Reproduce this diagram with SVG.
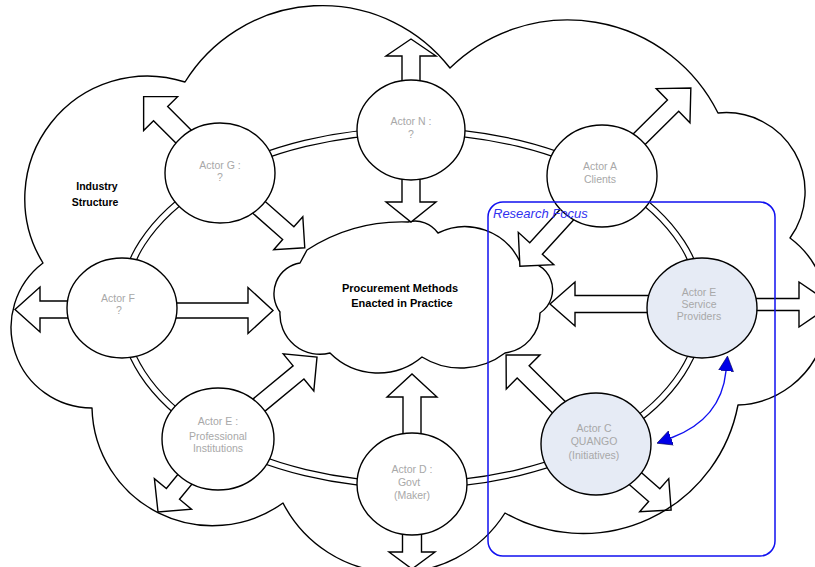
<svg xmlns="http://www.w3.org/2000/svg" width="815" height="567" viewBox="0 0 815 567">
<style>
.cloud{fill:none;stroke:#000;stroke-width:1.4;stroke-linejoin:round}
.core{fill:#fff;stroke:#000;stroke-width:1.4;stroke-linejoin:round}
.ringo{fill:none;stroke:#000;stroke-width:7.4}
.ringi{fill:none;stroke:#fff;stroke-width:5}
.arrow{fill:#fff;stroke:#000;stroke-width:1.4;stroke-linejoin:miter}
.actor{fill:#fff;stroke:#000;stroke-width:1.4}
.focus{fill:#E6EBF5}
.lbl{font-family:"Liberation Sans",Arial,sans-serif;font-size:10.5px;fill:#A8A8A8;text-anchor:middle}
.main{font-family:"Liberation Sans",Arial,sans-serif;font-size:11px;font-weight:bold;fill:#000;text-anchor:middle}
.box{fill:none;stroke:#1010F0;stroke-width:1.5}
.boxlbl{font-family:"Liberation Sans",Arial,sans-serif;font-size:13px;font-style:italic;fill:#3030F0}
.blue{fill:none;stroke:#1010F0;stroke-width:1.4}
</style>
<defs>
<marker id="bh" viewBox="0 0 10 10" refX="0" refY="5" markerUnits="userSpaceOnUse" markerWidth="15" markerHeight="18" orient="auto-start-reverse">
<path d="M0,0 L10,5 L0,10 Z" fill="#0000E8" stroke="#000050" stroke-width="0.4"/>
</marker>
</defs>

<g id="ring">
<ellipse class="ringo" cx="412" cy="308" rx="290" ry="177"/>
<ellipse class="ringi" cx="412" cy="308" rx="290" ry="177"/>
</g>

<g id="procurement-methods">
<path class="core" d="M307,250 A175,175 0 0 1 408,222 A28,28 0 0 1 438,233 A60.5,60.5 0 0 1 520,262 A28,28 0 0 1 540,313 A40,40 0 0 1 505,353 A73,73 0 0 1 422,357 A68,68 0 0 1 330,353 A40,40 0 0 1 280,312 A31,31 0 0 1 300,263 L307,250 Z"/>
<text class="main" x="400" y="292">Procurement Methods</text>
<text class="main" x="402" y="307">Enacted in Practice</text>
</g>

<g id="connectors">
<path class="arrow" transform="translate(411,130) rotate(-90)" d="M30,-9 L74,-9 L74,-25 L91,0 L74,25 L74,9 L30,9 Z"/>
<path class="arrow" transform="translate(411,130) rotate(90)" d="M30,-9 L72,-9 L72,-25 L92,0 L72,25 L72,9 L30,9 Z"/>
<path class="arrow" transform="translate(412,484) rotate(-90)" d="M30,-9 L87,-9 L87,-25 L110,0 L87,25 L87,9 L30,9 Z"/>
<path class="arrow" transform="translate(412,484) rotate(90)" d="M30,-9.5 L68,-9.5 L68,-23 L85,0 L68,23 L68,9.5 L30,9.5 Z"/>
<path class="arrow" transform="translate(122,309.5) rotate(180)" d="M30,-8.5 L82,-8.5 L82,-22.5 L107,0 L82,22.5 L82,8.5 L30,8.5 Z"/>
<path class="arrow" transform="translate(122,310.5)" d="M30,-7.5 L126,-7.5 L126,-23 L151,0 L126,23 L126,7.5 L30,7.5 Z"/>
<path class="arrow" transform="translate(702,304) rotate(180)" d="M30,-8.5 L127,-8.5 L127,-22 L152,0 L127,22 L127,8.5 L30,8.5 Z"/>
<path class="arrow" transform="translate(702,304.5)" d="M30,-6 L97,-6 L97,-22.5 L130,0 L97,22.5 L97,6 L30,6 Z"/>
<path class="arrow" transform="translate(220,173) rotate(-135)" d="M30,-10 L84,-10 L84,-24 L108,0 L84,24 L84,10 L30,10 Z"/>
<path class="arrow" transform="translate(220,173) rotate(41.4)" d="M30,-8.5 L91,-8.5 L91,-22 L113,0 L91,22 L91,8.5 L30,8.5 Z"/>
<path class="arrow" transform="translate(602,176) rotate(-44.7)" d="M30,-8 L100,-8 L100,-24 L125,0 L100,24 L100,8 L30,8 Z"/>
<path class="arrow" transform="translate(602,176) rotate(132.3)" d="M30,-8.5 L98,-8.5 L98,-24 L122,0 L98,24 L98,8.5 L30,8.5 Z"/>
<path class="arrow" transform="translate(596,444) rotate(-135.3)" d="M30,-8.5 L102.5,-8.5 L102.5,-24 L126.5,0 L102.5,24 L102.5,8.5 L30,8.5 Z"/>
<path class="arrow" transform="translate(596,444) rotate(41.3)" d="M30,-8.5 L77.5,-8.5 L77.5,-22 L100,0 L77.5,22 L77.5,8.5 L30,8.5 Z"/>
<path class="arrow" transform="translate(218,439) rotate(-39.6)" d="M30,-8.5 L104.5,-8.5 L104.5,-24 L128.5,0 L104.5,24 L104.5,8.5 L30,8.5 Z"/>
<path class="arrow" transform="translate(218,439) rotate(129.4)" d="M30,-8.5 L71,-8.5 L71,-24 L94.5,0 L71,24 L71,8.5 L30,8.5 Z"/>
</g>

<g id="industry-structure">
<path class="cloud" d="M43,263 A122.6,122.6 0 0 1 185,82 A161.7,161.7 0 0 1 450,68 A168,168 0 0 1 718,113 A79,79 0 0 1 790,238 A92.7,92.7 0 0 1 738,405 A158,158 0 0 1 505,513 A128,128 0 0 1 283,503 A120.6,120.6 0 0 1 92,408 A80.7,80.7 0 0 1 43,263 Z"/>
<text class="main" x="97" y="190" style="font-size:10.5px">Industry</text>
<text class="main" x="95" y="206" style="font-size:10.5px">Structure</text>
</g>

<g id="actor-n">
<ellipse class="actor" cx="411" cy="130" rx="54" ry="50"/>
<text class="lbl" x="411" y="125">Actor N :</text>
<text class="lbl" x="411" y="138">?</text>
</g>
<g id="actor-g">
<ellipse class="actor" cx="220" cy="173" rx="55" ry="50"/>
<text class="lbl" x="220" y="169">Actor G :</text>
<text class="lbl" x="220" y="181">?</text>
</g>
<g id="actor-a">
<ellipse class="actor" cx="602" cy="176" rx="55" ry="51"/>
<text class="lbl" x="600" y="170">Actor A</text>
<text class="lbl" x="600" y="183">Clients</text>
</g>
<g id="actor-f">
<ellipse class="actor" cx="122" cy="308" rx="55" ry="50"/>
<text class="lbl" x="118" y="302">Actor F</text>
<text class="lbl" x="119" y="314">?</text>
</g>
<g id="actor-e-service">
<ellipse class="actor focus" cx="702" cy="308" rx="55" ry="50"/>
<text class="lbl" x="699" y="296">Actor E</text>
<text class="lbl" x="699" y="308">Service</text>
<text class="lbl" x="699" y="320">Providers</text>
</g>
<g id="actor-e-professional">
<ellipse class="actor" cx="218" cy="439" rx="56" ry="51"/>
<text class="lbl" x="218" y="425">Actor E :</text>
<text class="lbl" x="218" y="440">Professional</text>
<text class="lbl" x="218" y="452">Institutions</text>
</g>
<g id="actor-d">
<ellipse class="actor" cx="412" cy="484" rx="55" ry="51"/>
<text class="lbl" x="412" y="473">Actor D :</text>
<text class="lbl" x="409" y="486">Govt</text>
<text class="lbl" x="412" y="499">(Maker)</text>
</g>
<g id="actor-c">
<ellipse class="actor focus" cx="596" cy="444" rx="55" ry="51"/>
<text class="lbl" x="594" y="432">Actor C</text>
<text class="lbl" x="594" y="445">QUANGO</text>
<text class="lbl" x="594" y="459">(Initiatives)</text>
</g>

<g id="research-focus">
<rect class="box" x="488" y="202" width="287" height="354" rx="15"/>
<text class="boxlbl" x="493" y="218">Research Focus</text>
</g>

<g id="focus-link">
<path class="blue" d="M726,371 C723,401 706,425 671,438" marker-start="url(#bh)" marker-end="url(#bh)"/>
</g>
</svg>
